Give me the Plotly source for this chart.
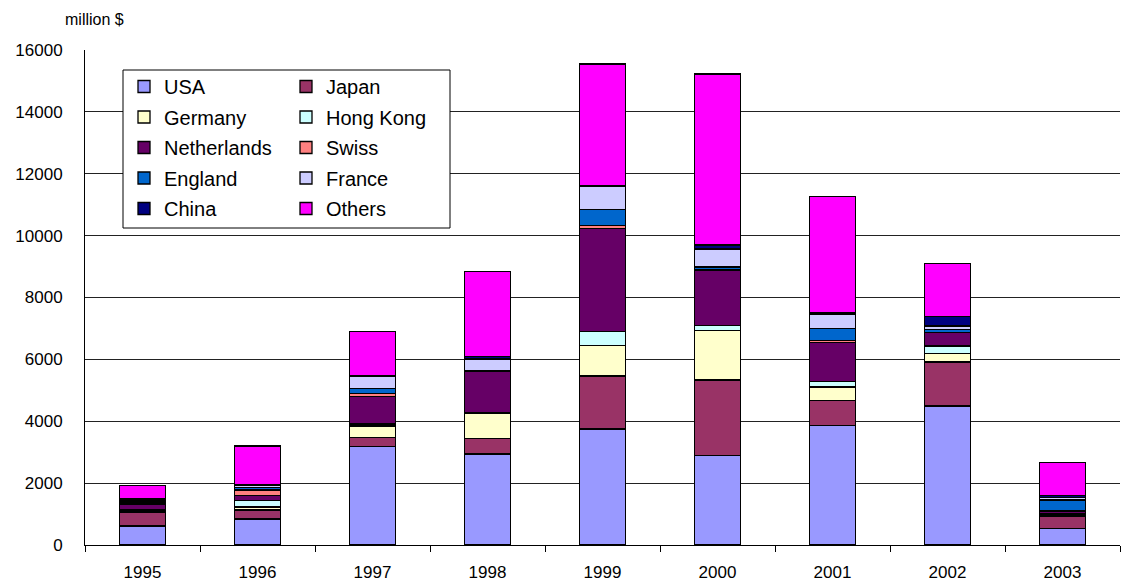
import plotly.graph_objects as go

years = ["1995", "1996", "1997", "1998", "1999", "2000", "2001", "2002", "2003"]

usa         = [610, 840, 3180, 2940, 3750, 2890, 3860, 4490, 540]
japan       = [430, 290, 300, 510, 1710, 2440, 800, 1430, 400]
germany     = [60, 100, 370, 790, 980, 1610, 450, 280, 40]
hong_kong   = [50, 200, 60, 40, 450, 160, 170, 230, 30]
netherlands = [150, 180, 900, 1320, 3340, 1780, 1260, 430, 70]
swiss       = [40, 170, 80, 20, 100, 10, 60, 20, 20]
england     = [50, 70, 170, 30, 520, 100, 390, 90, 350]
france      = [40, 70, 390, 360, 750, 580, 450, 110, 80]
china       = [60, 40, 40, 90, 10, 130, 60, 300, 80]
others      = [440, 1240, 1400, 2750, 3935, 5520, 3770, 1730, 1060]

# (name, values, colour, legend column)
series = [
    ("USA", usa, "#9999FF", "legend"),
    ("Japan", japan, "#993366", "legend2"),
    ("Germany", germany, "#FFFFCC", "legend"),
    ("Hong Kong", hong_kong, "#CCFFFF", "legend2"),
    ("Netherlands", netherlands, "#660066", "legend"),
    ("Swiss", swiss, "#FF8080", "legend2"),
    ("England", england, "#0066CC", "legend"),
    ("France", france, "#CCCCFF", "legend2"),
    ("China", china, "#000080", "legend"),
    ("Others", others, "#FF00FF", "legend2"),
]

FONT = "Liberation Sans, Arial, sans-serif"

fig = go.Figure()
for name, vals, color, leg in series:
    fig.add_trace(go.Bar(
        x=years, y=vals, name=name, legend=leg, legendgroup=name,
        marker=dict(color=color, line=dict(color="black", width=1.3)),
    ))

# plot area: x 85..1120, y 50..545 (pixels)
def px_x(p):
    return (p - 85) / 1035.0

def px_y(p):
    return (545 - p) / 495.0

legend_common = dict(
    orientation="v", xanchor="left", yanchor="top",
    font=dict(family=FONT, size=20, color="black"),
    bgcolor="rgba(0,0,0,0)", borderwidth=0,
    traceorder="grouped", tracegroupgap=1.5, itemwidth=30,
)

fig.update_layout(
    width=1123, height=585,
    barmode="stack", bargap=0.6,
    plot_bgcolor="white", paper_bgcolor="white",
    margin=dict(l=85, r=3, t=50, b=40),
    font=dict(family=FONT, size=17, color="black"),
    showlegend=True,
    legend=dict(x=px_x(124), y=px_y(67), **legend_common),
    legend2=dict(x=px_x(286), y=px_y(67), **legend_common),
    xaxis=dict(
        type="category", showline=True, linecolor="black", linewidth=1,
        ticks="outside", tickson="boundaries", ticklen=6, tickcolor="black",
        tickfont=dict(size=17), showgrid=False, ticklabelstandoff=12,
    ),
    yaxis=dict(
        range=[0, 16000], dtick=2000, tickformat="d",
        showline=True, linecolor="black", linewidth=1,
        ticks="", showgrid=True, gridcolor="#222222", gridwidth=1,
        tickfont=dict(size=17), zeroline=False, ticklabelstandoff=18,
    ),
    shapes=[dict(
        type="rect", xref="paper", yref="paper",
        x0=px_x(123), x1=px_x(450), y0=px_y(228), y1=px_y(70),
        line=dict(color="black", width=1), fillcolor="white", layer="above",
    )],
    annotations=[dict(
        text="million $", xref="paper", yref="paper", x=px_x(63), y=px_y(19),
        xanchor="left", yanchor="middle", showarrow=False,
        font=dict(family=FONT, size=16, color="black"),
    )],
)

fig.write_html("out.html")
